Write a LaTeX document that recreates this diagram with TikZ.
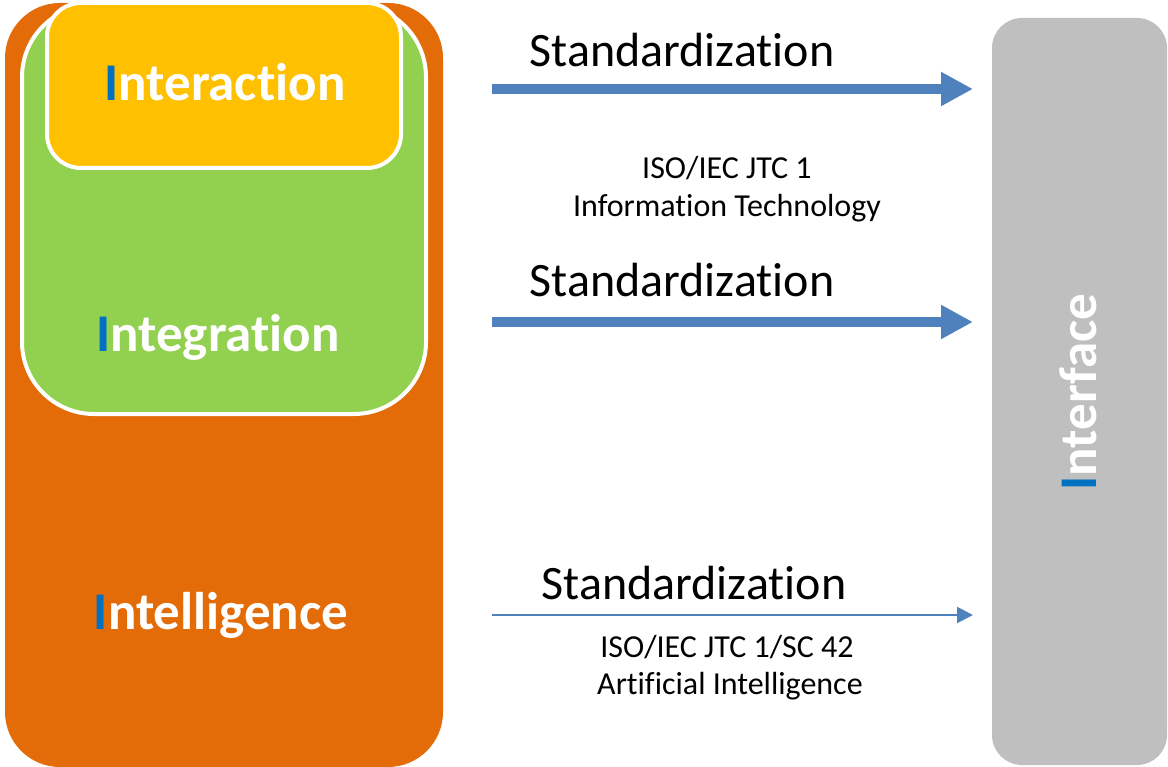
\documentclass[tikz,border=0pt]{standalone}
\usepackage{fontspec}
\setmainfont{Carlito}[Ligatures=NoCommon]
\usetikzlibrary{arrows.meta}
\definecolor{orangeC}{HTML}{E36C09}
\definecolor{greenC}{HTML}{92D050}
\definecolor{yellowC}{HTML}{FFC000}
\definecolor{grayC}{HTML}{BFBFBF}
\definecolor{arrowC}{HTML}{4F81BD}
\definecolor{iblue}{HTML}{0070C0}
\tikzset{
  boxlabel/.style={text=white, font=\bfseries\fontsize{53}{62}\selectfont, inner sep=0pt, anchor=base},
  stdlabel/.style={text=black, font=\fontsize{48}{56}\selectfont, inner sep=0pt, anchor=base},
  orglabel/.style={text=black, font=\fontsize{32}{38}\selectfont, inner sep=0pt, anchor=base, align=center},
  thickarrow/.style={draw=arrowC, line width=10pt, -{Triangle[width=32pt,length=32pt]}, arrowC},
  thinarrow/.style={draw=arrowC, line width=2pt, -{Triangle[width=16pt,length=16pt]}, arrowC},
}
\begin{document}
\begin{tikzpicture}[x=1pt,y=-1pt]
\useasboundingbox (0,0) rectangle (1168,767);
% boxes
\fill[orangeC, rounded corners=55pt] (5,3) rectangle (443,767);
\filldraw[fill=greenC, draw=white, line width=4pt, rounded corners=72pt] (22,5) rectangle (426,414);
\filldraw[fill=yellowC, draw=white, line width=4pt, rounded corners=34pt] (47,3) rectangle (401,168);
\fill[grayC, rounded corners=30pt] (992,18) rectangle (1167,765);
% box labels
\node[boxlabel] (interaction) at (225,101) {{\color{iblue}I}nteraction};
\node[boxlabel] (integration) at (218,352) {{\color{iblue}I}ntegration};
\node[boxlabel] (intelligence) at (221,629) {{\color{iblue}I}ntelligence};
\node[boxlabel, rotate=90] (interface) at (1096,392) {{\color{iblue}I}nterface};
% arrows
\coordinate (s1) at (492,89);
\coordinate (e1) at (973,89);
\coordinate (s2) at (492,322);
\coordinate (e2) at (973,322);
\coordinate (s3) at (492,615);
\coordinate (e3) at (973,615);
\draw[thickarrow] (s1) -- (e1);
\draw[thickarrow] (s2) -- (e2);
\draw[thinarrow] (s3) -- (e3);
% labels
\node[stdlabel] (std1) at (682,67) {Standardization};
\node[stdlabel] (std2) at (682,297) {Standardization};
\node[stdlabel] (std3) at (694,599) {Standardization};
\node[orglabel] (jtc1a) at (727,179) {ISO/IEC JTC 1};
\node[orglabel] (jtc1b) at (727,217) {Information Technology};
\node[orglabel] (sc42a) at (727,657) {ISO/IEC JTC 1/SC 42};
\node[orglabel] (sc42b) at (730,694) {Artificial Intelligence};
\end{tikzpicture}
\end{document}
